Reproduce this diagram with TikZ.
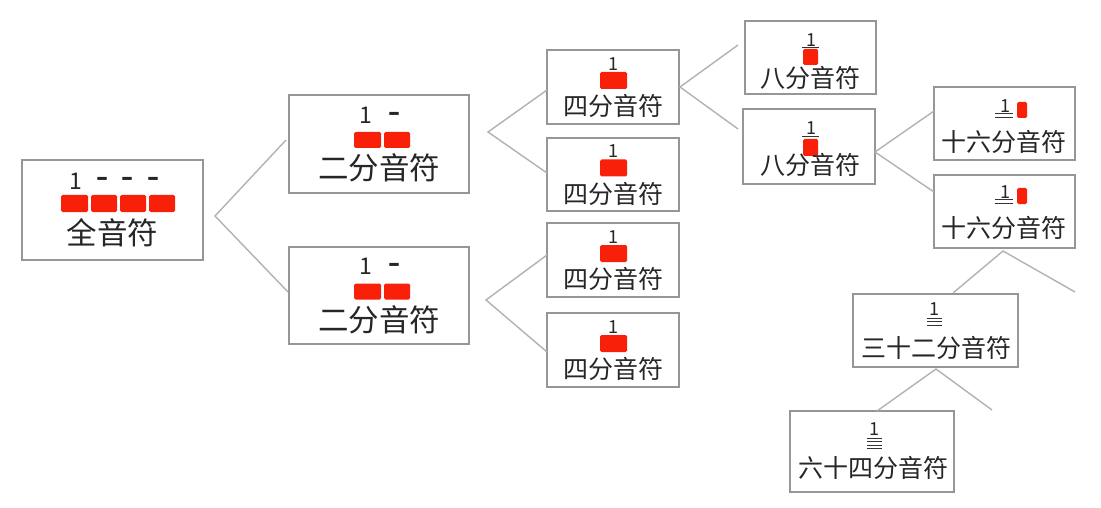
\documentclass[tikz,border=0pt]{standalone}
\usepackage{fontspec}
\newfontfamily\cjk{Noto Sans CJK SC}
\newfontfamily\dv{DejaVu Sans}
\definecolor{boxgray}{RGB}{150,150,150}
\definecolor{linegray}{RGB}{178,178,178}
\definecolor{notered}{RGB}{248,32,8}
\begin{document}
\begin{tikzpicture}[x=1pt,y=-1pt,
  box/.style={draw=boxgray,line width=2pt,fill=white,inner sep=0pt},
  conn/.style={draw=linegray,line width=1.4pt},
  blk/.style={fill=notered,rounded corners=1.5pt},
  beam/.style={draw=black!80,line width=1pt},
  bigtxt/.style={font=\cjk\fontsize{30.5}{30.5}\selectfont,inner sep=0pt,text=black!85},
  smalltxt/.style={font=\cjk\fontsize{25}{25}\selectfont,inner sep=0pt,text=black!85},
  bignum/.style={font=\cjk\fontsize{23}{23}\selectfont,inner sep=0pt,text=black!85},
  bigdash/.style={font=\dv\bfseries\fontsize{24}{24}\selectfont,inner sep=0pt,text=black!85},
  smallnum/.style={font=\cjk\fontsize{18}{18}\selectfont,inner sep=0pt,text=black!85}]
\useasboundingbox[fill=white] (0,0) rectangle (1101,508);

% ---------- boxes ----------
\node[box,minimum width=181pt,minimum height=100pt] (w)  at (112.5,210) {};
\node[box,minimum width=180pt,minimum height=98pt]  (h1) at (379,144) {};
\node[box,minimum width=180pt,minimum height=97pt]  (h2) at (379,295.5) {};
\node[box,minimum width=132pt,minimum height=74pt]  (q1) at (613,87) {};
\node[box,minimum width=132pt,minimum height=73pt]  (q2) at (613,174.5) {};
\node[box,minimum width=132pt,minimum height=74pt]  (q3) at (613,260) {};
\node[box,minimum width=132pt,minimum height=74pt]  (q4) at (613,350) {};
\node[box,minimum width=131pt,minimum height=73pt]  (e1) at (810.5,57.5) {};
\node[box,minimum width=132pt,minimum height=75pt]  (e2) at (809,146.5) {};
\node[box,minimum width=141pt,minimum height=73pt]  (s1) at (1004.5,123.5) {};
\node[box,minimum width=141pt,minimum height=73pt]  (s2) at (1004.5,211.5) {};
\node[box,minimum width=165pt,minimum height=73pt]  (t1) at (935.5,330.5) {};
\node[box,minimum width=164pt,minimum height=81pt]  (x1) at (872,451.5) {};

% ---------- whole note ----------
\node[bignum] (wn) at (76,181) {1};
\node[bigdash] (wd1) at (102,181) {–};
\node[bigdash] (wd2) at (127,181) {–};
\node[bigdash] (wd3) at (153,181) {–};
\fill[blk] (61,195) rectangle (88,212);
\fill[blk] (91,195) rectangle (117,212);
\fill[blk] (120,195) rectangle (146,212);
\fill[blk] (149,195) rectangle (175,212);
\node[bigtxt] (wt) at (112.5,233) {全音符};

% ---------- half notes ----------
\foreach \dy/\nm in {0/a,151.5/b}{
  \node[bignum] (hn\nm) at (366,115+\dy) {1};
  \node[bigdash] (hd\nm) at (394,116+\dy) {–};
  \fill[blk] (354,132+\dy) rectangle (381,148+\dy);
  \fill[blk] (384,132+\dy) rectangle (410,148+\dy);
  \node[bigtxt] (ht\nm) at (379,168+\dy) {二分音符};
}

% ---------- quarter notes ----------
\foreach \dy/\nm in {0/a,87.5/b,173/c,263/d}{
  \node[smallnum] (qn\nm) at (613,64+\dy) {1};
  \fill[blk] (600,72+\dy) rectangle (627,89+\dy);
  \node[smalltxt] (qt\nm) at (613,106+\dy) {四分音符};
}

% ---------- eighth notes ----------
\node[smallnum] (en1) at (811,40) {1};
\draw[beam] (802,48) -- (819,48);
\fill[blk] (803,49) rectangle (818,65);
\node[smalltxt] (et1) at (810,78) {八分音符};

\node[smallnum] (en2) at (811,128) {1};
\draw[beam] (802,137) -- (819,137);
\fill[blk] (803,139) rectangle (818,156);
\node[smalltxt] (et2) at (810,165) {八分音符};

% ---------- sixteenth notes ----------
\foreach \dy/\nm in {0/a,86/b}{
  \node[smallnum] (sn\nm) at (1005,106+\dy) {1};
  \draw[beam] (995,114+\dy) -- (1013,114+\dy);
  \draw[beam] (995,117.5+\dy) -- (1013,117.5+\dy);
  \fill[blk] (1017,102+\dy) rectangle (1027,118+\dy);
  \node[smalltxt] (st\nm) at (1004,142+\dy) {十六分音符};
}

% ---------- 32nd note ----------
\node[smallnum] (tn) at (934,309) {1};
\draw[beam] (927,318) -- (942,318);
\draw[beam] (927,321.5) -- (942,321.5);
\draw[beam] (927,325) -- (942,325);
\node[smalltxt] (tt) at (936,348) {三十二分音符};

% ---------- 64th note ----------
\node[smallnum] (xn) at (874,429) {1};
\draw[beam] (867,438) -- (882,438);
\draw[beam] (867,441.5) -- (882,441.5);
\draw[beam] (867,445) -- (882,445);
\draw[beam] (867,448.5) -- (882,448.5);
\node[smalltxt] (xt) at (873,468) {六十四分音符};

% ---------- connector points ----------
\coordinate (f1) at (215,216); \coordinate (f1a) at (286,140); \coordinate (f1b) at (288,292);
\coordinate (f2) at (488,132); \coordinate (f2a) at (547,90);  \coordinate (f2b) at (547,173);
\coordinate (f3) at (486,300); \coordinate (f3a) at (547,255); \coordinate (f3b) at (547,352);
\coordinate (f4) at (680,87);  \coordinate (f4a) at (738,45);  \coordinate (f4b) at (738,129);
\coordinate (f5) at (875,152); \coordinate (f5a) at (934,111); \coordinate (f5b) at (934,192);
\coordinate (f6) at (1003,251); \coordinate (f6a) at (953,293); \coordinate (f6b) at (1075,292);
\coordinate (f7) at (936,369); \coordinate (f7a) at (877,411); \coordinate (f7b) at (992,410);

\foreach \f in {f1,f2,f3,f4,f5,f6,f7}{
  \draw[conn] (\f a) -- (\f) -- (\f b);
}
\end{tikzpicture}
\end{document}
